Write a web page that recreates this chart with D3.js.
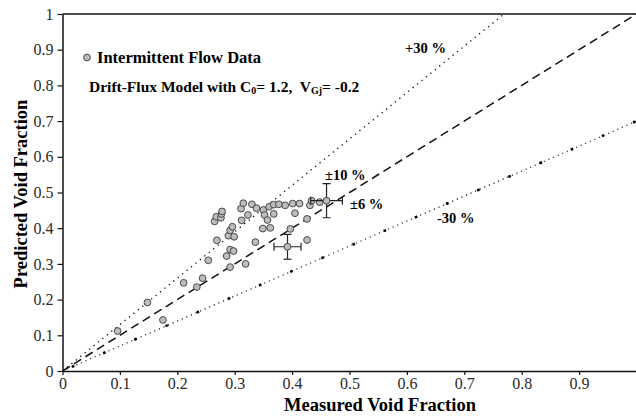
<!DOCTYPE html>
<html>
<head>
<meta charset="utf-8">
<script src="https://cdn.jsdelivr.net/npm/d3@7"></script>
<style>
  html, body { margin: 0; padding: 0; background: #fff; }
  svg { display: block; font-family: "Liberation Serif", "Times New Roman", serif; }
</style>
</head>
<body>
<svg id="chart" width="636" height="418"></svg>
<script>
// ---- data ----
const measured = [0.096, 0.148, 0.175, 0.211, 0.234, 0.244, 0.254, 0.269, 0.265, 0.268, 0.276, 0.277, 0.278,
  0.286, 0.292, 0.298, 0.292, 0.289, 0.299, 0.292, 0.296, 0.319, 0.336, 0.312, 0.311, 0.315, 0.323, 0.330,
  0.338, 0.349, 0.362, 0.350, 0.352, 0.357, 0.360, 0.368, 0.368, 0.377, 0.388, 0.401, 0.413, 0.405, 0.397,
  0.426, 0.426, 0.431, 0.434, 0.448];
const predicted = [0.112, 0.192, 0.143, 0.247, 0.235, 0.260, 0.310, 0.366, 0.419, 0.432, 0.429, 0.440, 0.447,
  0.322, 0.340, 0.336, 0.291, 0.379, 0.376, 0.394, 0.404, 0.300, 0.361, 0.422, 0.455, 0.470, 0.437, 0.467,
  0.456, 0.399, 0.401, 0.451, 0.437, 0.423, 0.460, 0.466, 0.440, 0.467, 0.464, 0.469, 0.469, 0.442, 0.398,
  0.426, 0.367, 0.464, 0.477, 0.473];
// points with error bars (x error ±6 %, y error ±10 %)
const errMeasured = [0.392, 0.460];
const errPredicted = [0.348, 0.477];
const xErrFrac = 0.06;
const yErrFrac = 0.10;
// reference lines: predicted = k * measured
const lineFactors = [1.0, 1.3, 0.7];
const xTicks = [0, 0.1, 0.2, 0.3, 0.4, 0.5, 0.6, 0.7, 0.8, 0.9];
const yTicks = [0, 0.1, 0.2, 0.3, 0.4, 0.5, 0.6, 0.7, 0.8, 0.9, 1];

// ---- layout ----
const svg = d3.select("#chart");
const L = 62.5, R = 636.5, T = 14, B = 371;
const x = d3.scaleLinear().domain([0, 1]).range([L, R]);
const y = d3.scaleLinear().domain([0, 1]).range([B, T]);

svg.append("defs").append("clipPath").attr("id", "plotclip")
  .append("rect").attr("x", L).attr("y", T).attr("width", R - L).attr("height", B - T);

const plot = svg.append("g").attr("clip-path", "url(#plotclip)");
const lineGen = d3.line().x(d => x(d[0])).y(d => y(d[1]));
function refPts(k) { return [[0, 0], [1, k]]; }

// y = x dashed
plot.append("path").attr("d", lineGen(refPts(lineFactors[0])))
  .attr("fill", "none").attr("stroke", "#111").attr("stroke-width", 1.5)
  .attr("stroke-dasharray", "8.5,5");
// +30 % fine dotted
plot.append("path").attr("d", lineGen(refPts(lineFactors[1])))
  .attr("fill", "none").attr("stroke", "#111").attr("stroke-width", 1.3)
  .attr("stroke-dasharray", "1.3,4.4");
// -30 % dotted with larger squares
plot.append("path").attr("d", lineGen(refPts(lineFactors[2])))
  .attr("fill", "none").attr("stroke", "#222").attr("stroke-width", 1.2)
  .attr("stroke-dasharray", "1.2,3.8");
plot.append("path").attr("d", lineGen(refPts(lineFactors[2])))
  .attr("fill", "none").attr("stroke", "#000").attr("stroke-width", 2.6)
  .attr("stroke-dasharray", "2.6,31.4").attr("stroke-dashoffset", -10.3);

// data points
const pts = measured.map((m, i) => [m, predicted[i]]);
plot.append("g").selectAll("circle").data(pts).join("circle")
  .attr("cx", d => x(d[0])).attr("cy", d => y(d[1])).attr("r", 3.4)
  .attr("fill", "#bdbdbd").attr("stroke", "#3a3a3a").attr("stroke-width", 0.9);

// error bars
const ep = errMeasured.map((m, i) => [m, errPredicted[i]]);
const eg = plot.append("g").attr("stroke", "#222").attr("stroke-width", 1.2).attr("fill", "none");
ep.forEach(d => {
  const cx = x(d[0]), cy = y(d[1]);
  const x0 = x(d[0] * (1 - xErrFrac)), x1 = x(d[0] * (1 + xErrFrac));
  const y0 = y(d[1] * (1 - yErrFrac)), y1 = y(d[1] * (1 + yErrFrac));
  eg.append("line").attr("x1", x0).attr("x2", x1).attr("y1", cy).attr("y2", cy);
  eg.append("line").attr("x1", x0).attr("x2", x0).attr("y1", cy - 4).attr("y2", cy + 4);
  eg.append("line").attr("x1", x1).attr("x2", x1).attr("y1", cy - 4).attr("y2", cy + 4);
  eg.append("line").attr("x1", cx).attr("x2", cx).attr("y1", y0).attr("y2", y1);
  eg.append("line").attr("x1", cx - 4).attr("x2", cx + 4).attr("y1", y0).attr("y2", y0);
  eg.append("line").attr("x1", cx - 4).attr("x2", cx + 4).attr("y1", y1).attr("y2", y1);
});
plot.append("g").selectAll("circle").data(ep).join("circle")
  .attr("cx", d => x(d[0])).attr("cy", d => y(d[1])).attr("r", 3.4)
  .attr("fill", "#bdbdbd").attr("stroke", "#3a3a3a").attr("stroke-width", 0.9);

// axes
const xAxis = svg.append("g").attr("transform", `translate(0,${B})`)
  .call(d3.axisBottom(x).tickValues(xTicks).tickFormat(d => d === 0 ? "0" : d3.format(".1f")(d))
    .tickSize(4).tickPadding(3).tickSizeOuter(0));
const yAxis = svg.append("g").attr("transform", `translate(${L},0)`)
  .call(d3.axisLeft(y).tickValues(yTicks).tickFormat(d => (d === 0 || d === 1) ? String(d) : d3.format(".1f")(d))
    .tickSize(5).tickPadding(4).tickSizeOuter(0));
[xAxis, yAxis].forEach(a => {
  a.select(".domain").attr("stroke", "#111").attr("stroke-width", 1.5);
  a.selectAll(".tick line").attr("stroke", "#111").attr("stroke-width", 1.2);
  a.selectAll(".tick text").attr("font-family", "Liberation Serif, Times New Roman, serif")
    .attr("font-size", 16).attr("fill", "#2a2a2a");
});
// top frame
svg.append("line").attr("x1", L).attr("x2", R).attr("y1", T).attr("y2", T)
  .attr("stroke", "#111").attr("stroke-width", 1.5);

// axis titles
svg.append("text").attr("x", 380).attr("y", 411).attr("text-anchor", "middle")
  .attr("font-size", 18.5).attr("font-weight", "bold").text("Measured Void Fraction");
svg.append("text").attr("transform", "translate(27,194) rotate(-90)").attr("text-anchor", "middle")
  .attr("font-size", 18.5).attr("font-weight", "bold").text("Predicted Void Fraction");

// legend
svg.append("circle").attr("cx", 87).attr("cy", 57.5).attr("r", 3.4)
  .attr("fill", "#bdbdbd").attr("stroke", "#3a3a3a").attr("stroke-width", 0.9);
svg.append("text").attr("x", 97).attr("y", 63).attr("font-size", 16.5).attr("font-weight", "bold")
  .text("Intermittent Flow Data");
const dm = svg.append("text").attr("x", 89).attr("y", 92).attr("font-size", 15.5).attr("font-weight", "bold")
  .style("white-space", "pre");
dm.append("tspan").text("Drift-Flux Model with C");
dm.append("tspan").attr("font-size", 10).attr("dy", 2).text("0");
dm.append("tspan").attr("dy", -2).text("= 1.2,  V");
dm.append("tspan").attr("font-size", 10).attr("dy", 2).text("Gj");
dm.append("tspan").attr("dy", -2).text("= -0.2");

// line annotations
const ann = [
  { t: "+30 %", x: 405, y: 53 },
  { t: "±10 %", x: 325, y: 180 },
  { t: "±6 %", x: 350, y: 209 },
  { t: "-30 %", x: 437, y: 223 }
];
svg.append("g").selectAll("text").data(ann).join("text")
  .attr("x", d => d.x).attr("y", d => d.y).attr("font-size", 14.5).attr("font-weight", "bold")
  .style("white-space", "pre").text(d => d.t);
</script>
</body>
</html>
